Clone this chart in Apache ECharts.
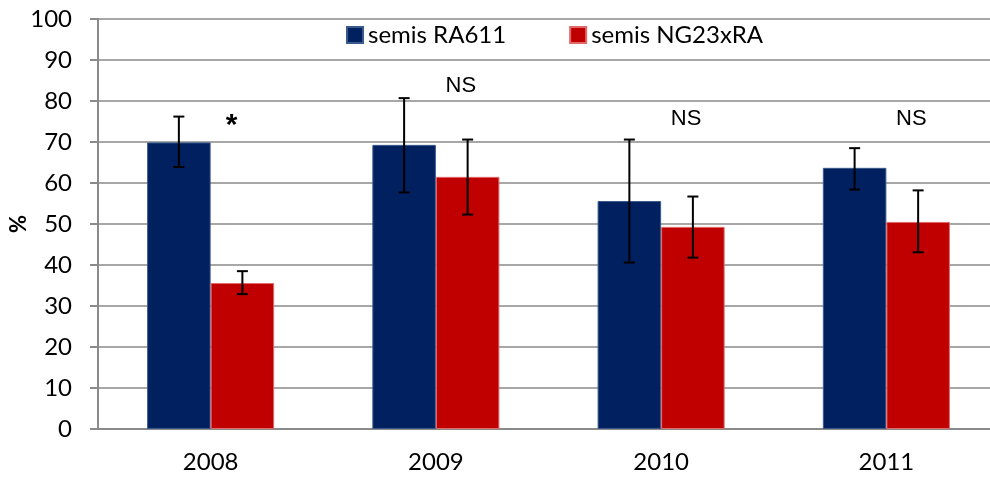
<!DOCTYPE html>
<html>
<head>
<meta charset="utf-8">
<script src="https://cdn.jsdelivr.net/npm/echarts@6/dist/echarts.min.js"></script>
<style>
  html, body { margin: 0; padding: 0; background: #fff; }
  #chart { width: 990px; height: 477px; }
</style>
</head>
<body>
<div id="chart"></div>
<script>
// ---- data ----
const years = ['2008', '2009', '2010', '2011']
const ra611 = [69.9, 69.3, 55.6, 63.7]
const ra611Low = [63.9, 57.7, 40.6, 58.4]
const ra611High = [76.2, 80.7, 70.6, 68.5]
const ng23 = [35.6, 61.5, 49.3, 50.5]
const ng23Low = [32.9, 52.3, 41.8, 43.1]
const ng23High = [38.5, 70.6, 56.7, 58.2]
const sigText = ['*', 'NS', 'NS', 'NS']
const sigY = [74, 83.7, 75.7, 75.7]
const yTicks = [0, 10, 20, 30, 40, 50, 60, 70, 80, 90, 100]

const BAR = 0.282 // bar width as share of category
const gridColor = '#8a8a8a'
const font = 'Lato, "Open Sans", sans-serif'

// error bar drawn at the left (-1) or right (+1) bar of a category
function errorBar(side) {
  return function (params, api) {
    const i = api.value(0)
    const lo = api.coord([i, api.value(1)])
    const hi = api.coord([i, api.value(2)])
    const w = api.size([1, 0])[0]
    const x = lo[0] + side * w * BAR / 2
    const cap = 5.5
    const style = { stroke: '#000', lineWidth: 2 }
    return {
      type: 'group',
      children: [
        { type: 'line', shape: { x1: x, y1: hi[1], x2: x, y2: lo[1] }, style },
        { type: 'line', shape: { x1: x - cap, y1: hi[1], x2: x + cap, y2: hi[1] }, style },
        { type: 'line', shape: { x1: x - cap, y1: lo[1], x2: x + cap, y2: lo[1] }, style },
      ],
    }
  }
}

const chart = echarts.init(document.getElementById('chart'))
chart.setOption({
  animation: false,
  // the plot runs past the right edge of the picture, so no fitting
  grid: { left: 98, top: 19, width: 901, height: 410, outerBoundsMode: 'none', containLabel: false },
  legend: {
    data: ['semis RA611', 'semis NG23xRA'],
    left: 341,
    top: 18,
    icon: 'rect',
    itemWidth: 16,
    itemHeight: 16,
    itemGap: 63,
    textStyle: { fontFamily: font, fontSize: 24, color: '#000' },
  },
  xAxis: {
    type: 'category',
    data: years,
    axisLine: { lineStyle: { color: gridColor, width: 2 } },
    axisTick: { length: 8, lineStyle: { color: gridColor, width: 2 } },
    axisLabel: { fontFamily: font, fontSize: 24, color: '#000', margin: 21 },
  },
  yAxis: {
    type: 'value',
    min: yTicks[0],
    max: yTicks[yTicks.length - 1],
    interval: 10,
    name: '%',
    nameLocation: 'middle',
    nameGap: 68,
    nameRotate: 90,
    nameMoveOverlap: false,
    nameTextStyle: { fontFamily: font, fontSize: 22, fontWeight: 'bold', color: '#000' },
    axisLine: { show: true, lineStyle: { color: gridColor, width: 2 } },
    axisTick: { show: true, length: 8, lineStyle: { color: gridColor, width: 2 } },
    axisLabel: { fontFamily: font, fontSize: 24, color: '#000', margin: 26 },
    splitLine: { lineStyle: { color: gridColor, width: 1.5 } },
  },
  series: [
    {
      name: 'semis RA611',
      type: 'bar',
      data: ra611,
      barWidth: (BAR * 100) + '%',
      barGap: '0%',
      itemStyle: { color: '#002060', borderColor: '#3a5a8c', borderWidth: 1 },
    },
    {
      name: 'semis NG23xRA',
      type: 'bar',
      data: ng23,
      barWidth: (BAR * 100) + '%',
      barGap: '0%',
      itemStyle: { color: '#c00000', borderColor: '#e06a6a', borderWidth: 1 },
    },
    {
      type: 'custom',
      z: 10,
      renderItem: errorBar(-1),
      encode: { x: 0, y: [1, 2] },
      data: years.map((y, i) => [i, ra611Low[i], ra611High[i]]),
    },
    {
      type: 'custom',
      z: 10,
      renderItem: errorBar(1),
      encode: { x: 0, y: [1, 2] },
      data: years.map((y, i) => [i, ng23Low[i], ng23High[i]]),
    },
    {
      // significance marks above each pair
      type: 'scatter',
      symbolSize: 0,
      z: 10,
      silent: true,
      itemStyle: { opacity: 1 },
      data: years.map((y, i) => ({
        value: [i, sigY[i]],
        label: sigText[i] === '*'
          ? { offset: [21, 0], fontSize: 30, fontWeight: 'bold' }
          : { offset: [25, 0] },
      })),
      label: {
        show: true,
        position: 'inside',
        formatter: (p) => sigText[p.dataIndex],
        fontFamily: '"Liberation Sans", Arial, sans-serif',
        fontSize: 22,
        color: '#000',
      },
    },
  ],
})
</script>
</body>
</html>
